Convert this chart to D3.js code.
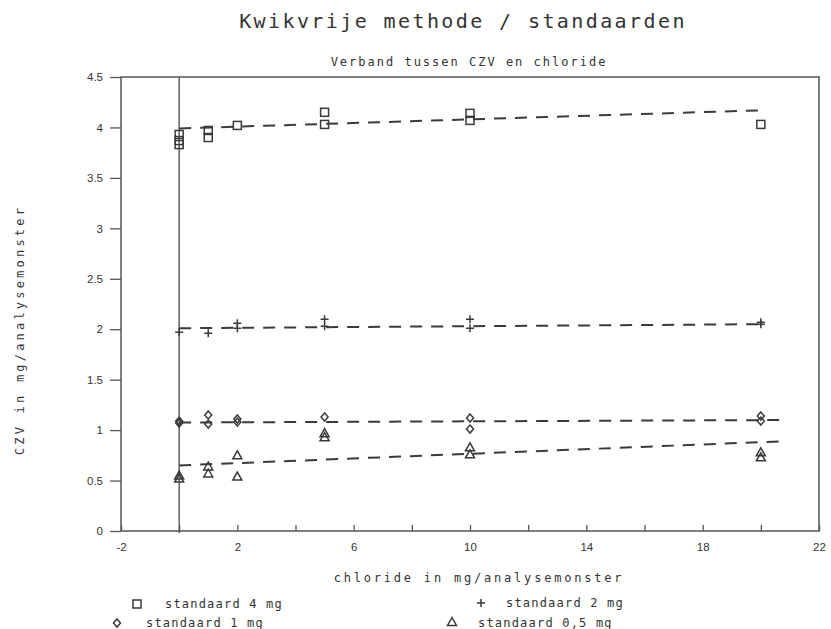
<!DOCTYPE html>
<html><head><meta charset="utf-8">
<script src="https://cdn.jsdelivr.net/npm/d3@7"></script>
<style>
body{margin:0;background:#fff;}
text{font-family:"DejaVu Sans Mono",monospace;fill:#333;}
</style></head>
<body><svg id="c" width="831" height="629"></svg>
<script>
// ---- data ----
const xTicks = [-2, 0, 2, 4, 6, 8, 10, 12, 14, 16, 18, 20, 22];
const xTickLabels = [-2, 2, 6, 10, 14, 18, 22];
const yTicks = [0, 0.5, 1, 1.5, 2, 2.5, 3, 3.5, 4, 4.5];

const std4X = [0, 0, 0, 1, 1, 2, 5, 5, 10, 10, 20];
const std4Y = [3.93, 3.87, 3.83, 3.97, 3.90, 4.02, 4.15, 4.03, 4.14, 4.07, 4.03];
const std2X = [0, 1, 2, 2, 5, 5, 10, 10, 20, 20];
const std2Y = [1.97, 1.96, 2.06, 2.01, 2.10, 2.03, 2.10, 2.01, 2.07, 2.05];
const std1X = [0, 0, 1, 1, 2, 2, 5, 10, 10, 20, 20];
const std1Y = [1.09, 1.07, 1.15, 1.06, 1.11, 1.08, 1.13, 1.12, 1.01, 1.14, 1.09];
const std05X = [0, 0, 1, 1, 2, 2, 5, 5, 10, 10, 20, 20];
const std05Y = [0.55, 0.52, 0.64, 0.57, 0.75, 0.54, 0.97, 0.93, 0.83, 0.76, 0.78, 0.73];

// regression line end points [x0, x1] and [y0, y1]
const fit4X = [0, 20], fit4Y = [3.99, 4.17];
const fit2X = [0, 20.1], fit2Y = [2.01, 2.05];
const fit1X = [0, 20.8], fit1Y = [1.075, 1.10];
const fit05X = [0, 20.8], fit05Y = [0.65, 0.89];

const seriesNames = ["standaard 4 mg", "standaard 2 mg", "standaard 1 mg", "standaard 0,5 mg"];
const symbols = ["square", "plus", "diamond", "triangle"];

// ---- drawing ----
const svg = d3.select("#c");
const x = d3.scaleLinear().domain([-2, 22]).range([121, 819]);
const y = d3.scaleLinear().domain([0, 4.5]).range([531, 77]);
const ink = "#3a3a3a";

svg.append("text").attr("x", 463).attr("y", 28).attr("text-anchor", "middle")
  .style("font-size", "20px").style("letter-spacing", "2.4px").text("Kwikvrije methode / standaarden");
svg.append("text").attr("x", 469).attr("y", 66).attr("text-anchor", "middle")
  .style("font-size", "12px").style("letter-spacing", "2px").text("Verband tussen CZV en chloride");

// frame
svg.append("rect").attr("x", x(-2)).attr("y", y(4.5)).attr("width", x(22) - x(-2)).attr("height", y(0) - y(4.5))
  .attr("fill", "none").attr("stroke", "#555").attr("stroke-width", 1.5);
// zero vertical line
svg.append("line").attr("x1", x(0)).attr("x2", x(0)).attr("y1", y(4.5)).attr("y2", y(0) + 2)
  .attr("stroke", "#555").attr("stroke-width", 1.4);

// y axis
const yAxis = d3.axisLeft(y).tickValues(yTicks).tickSize(11).tickPadding(7)
  .tickFormat(d => d === 0 ? "0" : String(d));
const gy = svg.append("g").attr("transform", `translate(${x(-2)},0)`).call(yAxis);
gy.select(".domain").remove();
gy.selectAll("line").attr("stroke", "#555").attr("stroke-width", 1.3);
gy.selectAll("text").style("font-family", "'Liberation Sans',sans-serif").style("font-size", "11.5px").attr("fill", "#444");

// x axis ticks (inward)
const xAxis = d3.axisBottom(x).tickValues(xTicks).tickSize(-6).tickPadding(12)
  .tickFormat(d => xTickLabels.includes(d) ? String(d) : "");
const gx = svg.append("g").attr("transform", `translate(0,${y(0)})`).call(xAxis);
gx.select(".domain").remove();
gx.selectAll("line").attr("stroke", "#555").attr("stroke-width", 1.3);
gx.selectAll("text").style("font-family", "'Liberation Sans',sans-serif").style("font-size", "11.5px").attr("fill", "#444");

svg.append("text").attr("x", 479).attr("y", 582).attr("text-anchor", "middle")
  .style("font-size", "12px").style("letter-spacing", "2.8px").text("chloride in mg/analysemonster");
svg.append("text").attr("transform", "translate(24,330) rotate(-90)").attr("text-anchor", "middle")
  .style("font-size", "12px").style("letter-spacing", "3.2px").text("CZV in mg/analysemonster");

// fit lines
const fits = [[fit4X, fit4Y], [fit2X, fit2Y], [fit1X, fit1Y], [fit05X, fit05Y]];
fits.forEach(([fx, fy]) => {
  svg.append("line").attr("x1", x(fx[0])).attr("y1", y(fy[0])).attr("x2", x(fx[1])).attr("y2", y(fy[1]))
    .attr("stroke", ink).attr("stroke-width", 2).attr("stroke-dasharray", "12,9");
});

// markers
function drawSymbol(g, type, cx, cy) {
  if (type === "square") {
    g.append("rect").attr("x", cx - 4).attr("y", cy - 4).attr("width", 8).attr("height", 8)
      .attr("fill", "none").attr("stroke", ink).attr("stroke-width", 1.5);
  } else if (type === "plus") {
    g.append("path").attr("d", `M${cx - 4},${cy}H${cx + 4}M${cx},${cy - 4}V${cy + 4}`)
      .attr("fill", "none").attr("stroke", ink).attr("stroke-width", 1.5);
  } else if (type === "diamond") {
    g.append("path").attr("d", `M${cx},${cy - 4}L${cx + 3.5},${cy}L${cx},${cy + 4}L${cx - 3.5},${cy}Z`)
      .attr("fill", "none").attr("stroke", ink).attr("stroke-width", 1.5);
  } else {
    g.append("path").attr("d", `M${cx},${cy - 4.5}L${cx + 4.5},${cy + 3.5}L${cx - 4.5},${cy + 3.5}Z`)
      .attr("fill", "none").attr("stroke", ink).attr("stroke-width", 1.5);
  }
}
const series = [[std4X, std4Y], [std2X, std2Y], [std1X, std1Y], [std05X, std05Y]];
const gm = svg.append("g");
series.forEach(([xs, ys], i) => {
  xs.forEach((v, j) => drawSymbol(gm, symbols[i], x(v), y(ys[j])));
});

// legend
const legPos = [[137, 604, 165, 608], [481, 603, 506, 607], [117, 623, 146, 627], [452, 622, 478, 627]];
const gl = svg.append("g");
seriesNames.forEach((name, i) => {
  const p = legPos[i];
  drawSymbol(gl, symbols[i], p[0], p[1]);
  gl.append("text").attr("x", p[2]).attr("y", p[3]).style("font-size", "12px").style("letter-spacing", "1.2px").text(name);
});
</script></body></html>
